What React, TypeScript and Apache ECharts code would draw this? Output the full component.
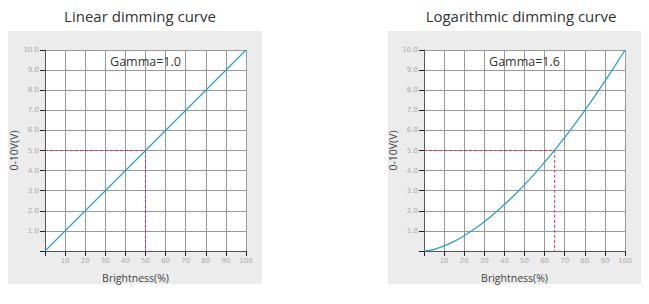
import React, { useEffect, useRef } from "react";
import * as echarts from "echarts";

const xTicks = [0, 10, 20, 30, 40, 50, 60, 70, 80, 90, 100];
const linearX = [0, 100];
const linearY = [0, 10];
const logX = [0, 5, 10, 15, 20, 25, 30, 35, 40, 45, 50, 55, 60, 65, 70, 75, 80, 85, 90, 95, 100];
const logY = [0, 0.08, 0.25, 0.48, 0.76, 1.09, 1.46, 1.87, 2.31, 2.79, 3.30, 3.84, 4.42, 5.02, 5.65, 6.31, 7.00, 7.71, 8.45, 9.21, 10.0];
const titles = ["Linear dimming curve", "Logarithmic dimming curve"];
const gammaLabels = ["Gamma=1.0", "Gamma=1.6"];
const refPoints = [[50, 5], [65, 5]];

export default function App() {
  const ref = useRef<HTMLDivElement>(null);
  useEffect(() => {
    const chart = echarts.init(ref.current!, null, { renderer: "svg" });
    const font = "'DejaVu Sans', 'Noto Sans', sans-serif";
    const titleFont = "'Open Sans', 'DejaVu Sans', sans-serif";
    const grids = [
      { left: 45, top: 50, width: 201, height: 201 },
      { left: 424, top: 50, width: 201, height: 201 },
    ];
    const xAxis = grids.map((_, i) => ({
      type: "value",
      gridIndex: i,
      min: 0,
      max: 100,
      interval: 10,
      name: "Brightness(%)",
      nameLocation: "middle",
      nameGap: 21,
      nameTextStyle: { fontSize: 10.5, color: "#444", fontFamily: titleFont, padding: [0, 20, 0, 0] },
      axisLine: { show: true, lineStyle: { color: "#555", width: 1 } },
      axisTick: { show: true, length: 5, lineStyle: { color: "#222" } },
      axisLabel: {
        fontSize: 7,
        color: "#aaa",
        fontFamily: font,
        margin: 6,
        formatter: (v: number) => (v === 0 ? "" : String(v)),
      },
      splitLine: { show: true, lineStyle: { color: "#999", width: 1 } },
    }));
    const yAxis = grids.map((_, i) => ({
      type: "value",
      gridIndex: i,
      min: 0,
      max: 10,
      interval: 1,
      name: "0-10V(V)",
      nameLocation: "middle",
      nameGap: 23,
      nameTextStyle: { fontSize: 10.5, color: "#444", fontFamily: titleFont },
      axisLine: { show: true, lineStyle: { color: "#555", width: 1 } },
      axisTick: { show: true, length: 5, lineStyle: { color: "#222" } },
      axisLabel: {
        fontSize: 7,
        color: "#aaa",
        fontFamily: font,
        margin: 6,
        formatter: (v: number) => (v === 0 ? "" : v.toFixed(1)),
      },
      splitLine: { show: true, lineStyle: { color: "#999", width: 1 } },
    }));
    const curves = [
      linearX.map((x, i) => [x, linearY[i]]),
      logX.map((x, i) => [x, logY[i]]),
    ];
    const series: any[] = [];
    curves.forEach((data, i) => {
      const [px, py] = refPoints[i];
      series.push({
        type: "line",
        xAxisIndex: i,
        yAxisIndex: i,
        data: [[0, py], [px, py], [px, 0]],
        showSymbol: false,
        lineStyle: { color: "#d6336c", width: 1, type: [3, 2] },
        z: 3,
      });
      series.push({
        type: "line",
        xAxisIndex: i,
        yAxisIndex: i,
        data,
        smooth: i === 1 ? 0.3 : false,
        showSymbol: false,
        lineStyle: { color: "#2b9fd3", width: 1.3 },
        z: 4,
      });
    });
    chart.setOption({
      animation: false,
      backgroundColor: "#ffffff",
      title: [
        { text: titles[0], left: 135, top: 3, textAlign: "center", textStyle: { fontSize: 15, fontWeight: "normal", color: "#333", fontFamily: titleFont } },
        { text: titles[1], left: 516, top: 3, textAlign: "center", textStyle: { fontSize: 15, fontWeight: "normal", color: "#333", fontFamily: titleFont } },
      ],
      graphic: [
        { type: "rect", shape: { x: 8, y: 31, width: 254, height: 253 }, style: { fill: "#ececec" }, z: -10 },
        { type: "rect", shape: { x: 388, y: 31, width: 253, height: 253 }, style: { fill: "#ececec" }, z: -10 },
        { type: "text", x: 145.5, y: 61, style: { text: gammaLabels[0], fontSize: 12.5, fill: "#333", fontFamily: titleFont, textAlign: "center", textVerticalAlign: "middle" }, z: 10 },
        { type: "text", x: 524.5, y: 61, style: { text: gammaLabels[1], fontSize: 12.5, fill: "#333", fontFamily: titleFont, textAlign: "center", textVerticalAlign: "middle" }, z: 10 },
      ],
      grid: grids.map((g) => ({ ...g, show: true, backgroundColor: "#ffffff", borderWidth: 0 })),
      xAxis,
      yAxis,
      series,
    });
    return () => chart.dispose();
  }, []);
  return (
    <div
      ref={ref}
      style={{ position: "fixed", left: 0, top: 0, width: 649, height: 304 }}
    />
  );
}
